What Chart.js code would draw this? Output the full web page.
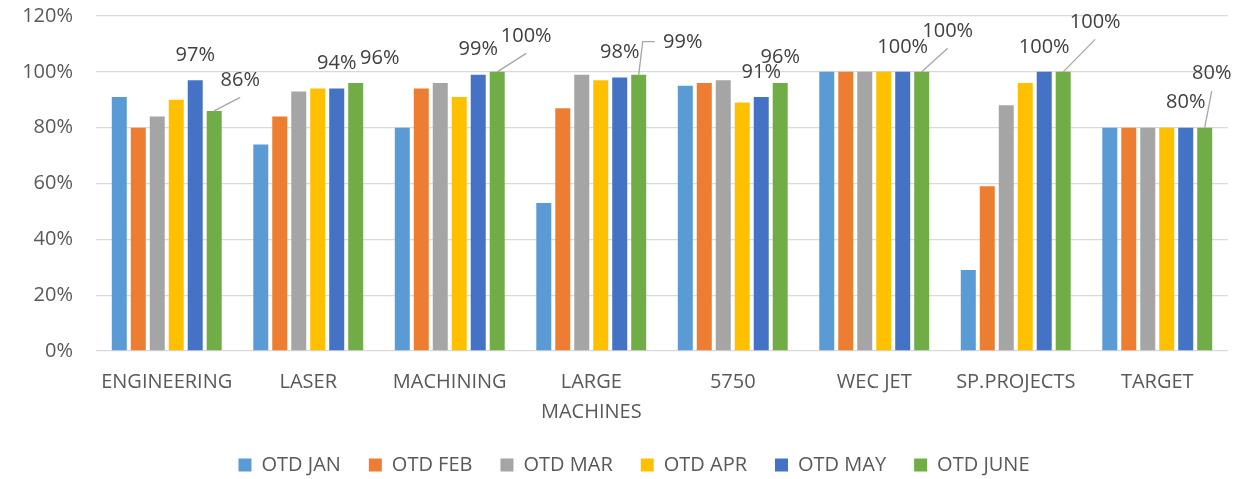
<!DOCTYPE html>
<html>
<head>
<meta charset="utf-8">
<script src="https://cdn.jsdelivr.net/npm/chart.js@4.4.1/dist/chart.umd.min.js"></script>
<style>
  html, body { margin: 0; padding: 0; background: #fff; }
  #wrap { width: 1260px; height: 479px; }
</style>
</head>
<body>
<div id="wrap"><canvas id="otdChart" width="1260" height="479"></canvas></div>
<script>
const departments = ["ENGINEERING", "LASER", "MACHINING", ["LARGE", "MACHINES"], "5750", "WEC JET", "SP.PROJECTS", "TARGET"];
const seriesNames = ["OTD JAN", "OTD FEB", "OTD MAR", "OTD APR", "OTD MAY", "OTD JUNE"];

const otdJan  = [91, 74, 80, 53, 95, 100, 29, 80];
const otdFeb  = [80, 84, 94, 87, 96, 100, 59, 80];
const otdMar  = [84, 93, 96, 99, 97, 100, 88, 80];
const otdApr  = [90, 94, 91, 97, 89, 100, 96, 80];
const otdMay  = [97, 94, 99, 98, 91, 100, 100, 80];
const otdJune = [86, 96, 100, 99, 96, 100, 100, 80];

const yTicks = [0, 20, 40, 60, 80, 100, 120];

const colors = ["#5B9BD5", "#ED7D31", "#A5A5A5", "#FFC000", "#4472C4", "#70AD47"];
const FONT = '"Open Sans", "Liberation Sans", sans-serif';

function pct(v) {
  return v + "%";
}

// june labels sit off the bar in the original, some with leader lines
const juneNudge = [
  [26, -31, "line"], [24, -25, null], [29, -36, "line"], [44, -32, "elbow"],
  [0, -26, null], [26, -41, "line"], [32, -50, "line"], [7, -54, "line"]
];

const barLabels = {
  id: "barLabels",
  beforeInit(chart) {
    const legend = chart.legend;
    const fitOrig = legend.fit;
    legend.fit = function () {
      fitOrig.call(this);
      this.height = 52;
    };
  },
  afterLayout(chart) {
    // legend is centred on the whole canvas in the original, not left..chartRight
    chart.legend.right += 40;
  },
  afterDatasetsDraw(chart) {
    const ctx = chart.ctx;
    ctx.save();
    ctx.font = "20px " + FONT;
    ctx.fillStyle = "#404040";
    ctx.textAlign = "center";
    ctx.textBaseline = "middle";

    chart.getDatasetMeta(4).data.forEach((bar, i) => {
      ctx.fillText(pct(otdMay[i]), bar.x, bar.y - 25);
    });

    ctx.strokeStyle = "#A6A6A6";
    ctx.lineWidth = 1.3;
    chart.getDatasetMeta(5).data.forEach((bar, i) => {
      const [dx, dy, leader] = juneNudge[i];
      const lx = bar.x + dx;
      const ly = bar.y + dy;
      if (leader === "line") {
        ctx.beginPath();
        ctx.moveTo(bar.x, bar.y);
        ctx.lineTo(lx, ly + 17.5);
        ctx.stroke();
      } else if (leader === "elbow") {
        ctx.beginPath();
        ctx.moveTo(bar.x, bar.y);
        ctx.lineTo(lx - 40, ly - 1);
        ctx.lineTo(lx - 28, ly - 1);
        ctx.stroke();
      }
      ctx.fillText(pct(otdJune[i]), lx, ly);
    });
    ctx.restore();
  }
};

const allSeries = [otdJan, otdFeb, otdMar, otdApr, otdMay, otdJune];

const ctx = document.getElementById("otdChart").getContext("2d");
new Chart(ctx, {
  type: "bar",
  data: {
    labels: departments,
    datasets: allSeries.map((vals, i) => ({
      label: seriesNames[i],
      data: vals,
      backgroundColor: colors[i],
      borderWidth: 0,
      categoryPercentage: 0.805,
      barPercentage: 0.79
    }))
  },
  options: {
    responsive: false,
    animation: false,
    layout: { padding: { top: 16, right: 32, left: 0, bottom: 0 } },
    plugins: {
      legend: {
        position: "bottom",
        labels: {
          boxWidth: 13,
          boxHeight: 13,
          padding: 28,
          color: "#595959",
          font: { family: FONT, size: 20 }
        }
      },
      tooltip: { enabled: false }
    },
    scales: {
      x: {
        grid: { display: false, drawTicks: false },
        border: { display: false },
        ticks: {
          color: "#595959",
          padding: 16,
          maxRotation: 0,
          autoSkip: false,
          font: { family: FONT, size: 20, lineHeight: "30px" }
        },
        afterFit(scale) { scale.height = 76; }
      },
      y: {
        min: 0,
        max: 120,
        afterBuildTicks(scale) { scale.ticks = yTicks.map(v => ({ value: v })); },
        grid: { color: "#D9D9D9", lineWidth: 1.3, drawTicks: false },
        border: { display: false },
        ticks: {
          color: "#595959",
          padding: 23,
          font: { family: FONT, size: 20 },
          callback: v => pct(v)
        },
        afterFit(scale) {
          scale.width = 96;
          scale.paddingTop = 0;
          scale.paddingBottom = 0;
        }
      }
    }
  },
  plugins: [barLabels]
});
</script>
</body>
</html>
